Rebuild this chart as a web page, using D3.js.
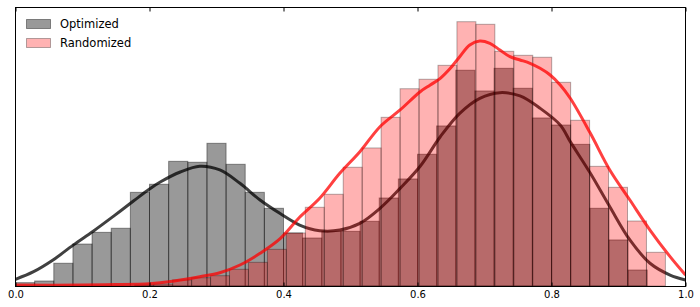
<!DOCTYPE html>
<html>
<head>
<meta charset="utf-8">
<script src="https://cdn.jsdelivr.net/npm/d3@7"></script>
<style>
  html, body { margin: 0; padding: 0; background: #fff; }
  svg { display: block; }
  text { font-family: "DejaVu Sans", sans-serif; }
</style>
</head>
<body>
<svg id="chart" width="700" height="307"></svg>
<script>
// ---- data (densities) ----
const optBinRange = [0, 1];          // optimized histogram range
const optDensity = [0.036, 0.054, 0.245, 0.452, 0.578, 0.622, 1.009, 1.096, 1.343, 1.333,
  1.537, 1.311, 1.009, 0.837, 0.571, 0.517, 0.589, 0.589, 0.697, 0.948,
  1.153, 1.419, 1.724, 2.324, 2.101, 2.345, 2.130, 1.810, 1.734, 1.526,
  0.837, 0.496, 0.172, 0, 0];
const randBinRange = [-0.02, 0.97];  // randomized histogram range
const randDensity = [0, 0, 0, 0, 0, 0, 0, 0.01, 0.02, 0.065,
  0.089, 0.111, 0.180, 0.255, 0.395, 0.571, 0.848, 0.988, 1.279, 1.487,
  1.817, 2.125, 2.227, 2.377, 2.847, 2.819, 2.528, 2.485, 2.464, 2.194,
  1.785, 1.289, 1.063, 0.700, 0.363];
const optKdeX = [0, 0.027, 0.056, 0.086, 0.116, 0.146, 0.176, 0.2, 0.216, 0.246, 0.275, 0.305,
  0.335, 0.365, 0.395, 0.424, 0.454, 0.484, 0.514, 0.544, 0.574, 0.604, 0.634, 0.663,
  0.693, 0.723, 0.753, 0.783, 0.813, 0.828, 0.858, 0.887, 0.917, 0.947, 0.977, 1.0];
const optKdeY = [0.072, 0.154, 0.28, 0.44, 0.59, 0.75, 0.915, 1.045, 1.12, 1.228, 1.29, 1.25,
  1.106, 0.926, 0.78, 0.657, 0.596, 0.603, 0.675, 0.837, 1.052, 1.29, 1.608, 1.86,
  2.022, 2.083, 2.047, 1.914, 1.734, 1.555, 1.214, 0.854, 0.496, 0.245, 0.118, 0.065];
const randKdeX = [0, 0.1, 0.15, 0.2, 0.216, 0.246, 0.275, 0.305, 0.335, 0.365, 0.395, 0.424,
  0.454, 0.484, 0.514, 0.544, 0.574, 0.604, 0.619, 0.634, 0.649, 0.663, 0.678, 0.693,
  0.708, 0.723, 0.738, 0.753, 0.768, 0.783, 0.798, 0.813, 0.828, 0.858, 0.887, 0.917,
  0.947, 0.977, 1.0];
const randKdeY = [0.01, 0.01, 0.015, 0.025, 0.035, 0.065, 0.1, 0.143, 0.226, 0.352, 0.51, 0.74,
  0.945, 1.214, 1.447, 1.716, 1.896, 2.093, 2.165, 2.237, 2.345, 2.470, 2.596, 2.639,
  2.614, 2.542, 2.470, 2.435, 2.399, 2.345, 2.273, 2.165, 2.022, 1.645, 1.25, 0.926,
  0.603, 0.316, 0.118];
const xTicks = [0, 0.2, 0.4, 0.6, 0.8, 1.0];
const xTickLabels = ["0.0", "0.2", "0.4", "0.6", "0.8", "1.0"];
const seriesNames = ["Optimized", "Randomized"];

// ---- layout ----
const L = 15.5, R = 685.5, T = 7.5, B = 286;
const svg = d3.select("#chart");
const x = d3.scaleLinear().domain([0, 1]).range([L, R]);
const y = d3.scaleLinear().domain([0, 3]).range([B, T]);

svg.append("defs").append("clipPath").attr("id", "clip")
  .append("rect").attr("x", L).attr("y", T).attr("width", R - L).attr("height", B - T);

const plot = svg.append("g").attr("clip-path", "url(#clip)");

function bins(range, vals) {
  const w = (range[1] - range[0]) / vals.length;
  return vals.map((v, i) => ({ x0: range[0] + i * w, x1: range[0] + (i + 1) * w, v }));
}

const line = d3.line().x(d => x(d[0])).y(d => y(d[1])).curve(d3.curveCatmullRom.alpha(0.5));

// optimized histogram
plot.append("g").selectAll("rect").data(bins(optBinRange, optDensity)).join("rect")
  .attr("x", d => x(d.x0)).attr("width", d => x(d.x1) - x(d.x0))
  .attr("y", d => y(d.v)).attr("height", d => y(0) - y(d.v))
  .attr("fill", "#000").attr("fill-opacity", 0.4)
  .attr("stroke", "#000").attr("stroke-opacity", 0.4).attr("stroke-width", 1);

// optimized kde
plot.append("path").datum(optKdeX.map((v, i) => [v, optKdeY[i]]))
  .attr("d", line).attr("fill", "none").attr("stroke", "#000")
  .attr("stroke-opacity", 0.75).attr("stroke-width", 3);

// randomized histogram
plot.append("g").selectAll("rect").data(bins(randBinRange, randDensity)).join("rect")
  .attr("x", d => x(d.x0)).attr("width", d => x(d.x1) - x(d.x0))
  .attr("y", d => y(d.v)).attr("height", d => y(0) - y(d.v))
  .attr("fill", "#ff0000").attr("fill-opacity", 0.3)
  .attr("stroke", "#000").attr("stroke-opacity", 0.3).attr("stroke-width", 1);

// randomized kde
plot.append("path").datum(randKdeX.map((v, i) => [v, randKdeY[i]]))
  .attr("d", line).attr("fill", "none").attr("stroke", "#ff0000")
  .attr("stroke-opacity", 0.75).attr("stroke-width", 3);

// frame
svg.append("rect").attr("x", L).attr("y", T).attr("width", R - L).attr("height", B - T + 0.5)
  .attr("fill", "none").attr("stroke", "#000").attr("stroke-width", 1);

// axes
const xb = d3.axisBottom(x).tickValues(xTicks).tickFormat((d, i) => xTickLabels[i])
  .tickSizeInner(-4).tickSizeOuter(0).tickPadding(4.5);
const gb = svg.append("g").attr("transform", `translate(0,${B + 0.5})`).call(xb);
gb.select(".domain").remove();
gb.selectAll("text").attr("font-size", "10px").attr("font-family", "DejaVu Sans").attr("fill", "#000");
gb.selectAll("line").attr("stroke", "#000");

const xt = d3.axisTop(x).tickValues(xTicks).tickFormat("").tickSizeInner(-4).tickSizeOuter(0);
const gt = svg.append("g").attr("transform", `translate(0,${T})`).call(xt);
gt.select(".domain").remove();
gt.selectAll("line").attr("stroke", "#000");

// legend
const leg = svg.append("g");
const legStyles = [
  { fill: "#000", fo: 0.4, so: 0.4 },
  { fill: "#ff0000", fo: 0.3, so: 0.3 }
];
seriesNames.forEach((n, i) => {
  const yy = 19.5 + i * 19;
  leg.append("rect").attr("x", 26.5).attr("y", yy).attr("width", 24).attr("height", 9)
    .attr("fill", legStyles[i].fill).attr("fill-opacity", legStyles[i].fo)
    .attr("stroke", "#000").attr("stroke-opacity", legStyles[i].so);
  leg.append("text").attr("x", 60).attr("y", yy + 8.8).attr("font-size", "11.5px")
    .attr("fill", "#000").text(n);
});
</script>
</body>
</html>
